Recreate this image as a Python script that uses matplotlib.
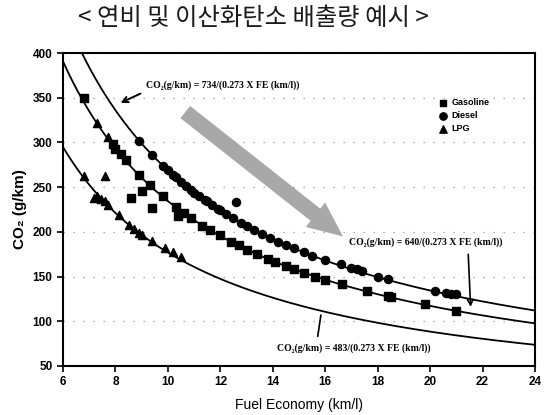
import matplotlib
matplotlib.use("Agg")
import matplotlib.pyplot as plt
import numpy as np

# ---- data ----
title = "< 연비 및 이산화탄소 배출량 예시 >"
x_label = "Fuel Economy (km/l)"
y_label = "CO₂ (g/km)"
x_ticks = [6, 8, 10, 12, 14, 16, 18, 20, 22, 24]
y_ticks = [50, 100, 150, 200, 250, 300, 350, 400]

curve_consts = [734, 640, 483]
fe_factor = 0.273

gas_fe = [6.8, 7.9, 8.0, 8.2, 8.4, 8.9, 9.3, 9.8, 10.3, 10.6, 10.9, 11.3, 11.6, 12.0,
          12.4, 12.7, 13.0, 13.4, 13.8, 14.1, 14.5, 14.8, 15.2, 15.6, 16.0, 16.65,
          17.6, 18.4, 18.5, 19.8, 21.0, 8.6, 9.0, 9.4, 10.4]
gas_co2 = [350, 298, 293, 287, 280, 264, 252, 240, 228, 221, 215, 207, 202, 196,
           189, 185, 180, 175, 170, 166, 162, 158, 154, 150, 146, 142,
           134, 128, 127, 119, 112, 238, 246, 227, 218]

dsl_fe = [8.9, 9.4, 9.8, 10.0, 10.2, 10.3, 10.5, 10.7, 10.9, 11.0, 11.2, 11.4, 11.5,
          11.7, 11.9, 12.0, 12.2, 12.5, 12.8, 13.0, 13.3, 13.6, 13.9, 14.2, 14.5,
          14.8, 15.2, 15.5, 16.0, 16.6, 17.0, 17.2, 17.4, 18.0, 18.4, 20.2, 20.6,
          20.8, 21.0, 12.6]
dsl_co2 = [302, 286, 274, 269, 264, 261, 256, 251, 247, 244, 240, 236, 234,
           230, 226, 224, 220, 215, 210, 207, 202, 198, 193, 189, 185,
           182, 177, 173, 168, 164, 160, 158, 156, 150, 147, 134, 132,
           131, 130, 233]

lpg_fe = [6.8, 7.2, 7.3, 7.45, 7.6, 7.7, 7.6, 7.3, 7.7, 8.15, 8.5, 8.7, 8.9, 9.0,
          9.4, 9.9, 10.2, 10.5]
lpg_co2 = [262, 238, 240, 237, 234, 230, 262, 322, 306, 219, 208, 203, 199, 197,
           190, 182, 177, 172]

series_names = ["Gasoline", "Diesel", "LPG"]

# ---- figure ----
plt.rcParams['font.family'] = ['Liberation Sans', 'DejaVu Sans']
fig = plt.figure(figsize=(5.45, 4.15), dpi=100)
ax = fig.add_axes([0.1156, 0.1181, 0.866, 0.754])

fe_line = np.linspace(6, 24, 400)
for c in curve_consts:
    ax.plot(fe_line, c / (fe_factor * fe_line), color='black', lw=1.3, zorder=3)

ax.scatter(gas_fe, gas_co2, marker='s', s=28, color='black', zorder=4, label=series_names[0])
ax.scatter(dsl_fe, dsl_co2, marker='o', s=34, color='black', zorder=4, label=series_names[1])
ax.scatter(lpg_fe, lpg_co2, marker='^', s=34, color='black', zorder=4, label=series_names[2])

ax.set_xlim(6, 24)
ax.set_ylim(50, 400)
ax.set_xticks(x_ticks)
ax.set_yticks(y_ticks)
ax.tick_params(direction='out', length=4, width=1.2, labelsize=8.5)
for lab in ax.get_xticklabels() + ax.get_yticklabels():
    lab.set_fontweight('bold')
for sp in ax.spines.values():
    sp.set_linewidth(1.5)

ax.grid(axis='y', linestyle=(0, (1, 7)), color='#999999', lw=0.9)
ax.set_axisbelow(True)

ax.set_xlabel(x_label, fontsize=10, labelpad=7)
ax.set_ylabel(y_label, fontsize=11, fontweight='bold', labelpad=4)

fig.text(0.465, 0.957, title, ha='center', va='center', fontsize=17.5, fontweight='normal',
         family=['Noto Sans CJK KR', 'DejaVu Sans'], color='#1a1a1a')

# big gray arrow
ax.annotate('', xy=(16.76, 193), xytext=(10.58, 336),
            arrowprops=dict(arrowstyle='simple,head_length=1.8,head_width=1.6,tail_width=0.8',
                            mutation_scale=14, color='#a8a8a8', lw=0), zorder=2)

# formula annotations
ffam = ['Liberation Serif', 'DejaVu Serif']
ax.text(9.15, 364, "CO₂(g/km) = 734/(0.273 X FE (km/l))", fontsize=7, fontweight='bold',
        family=ffam, va='center', ha='left', zorder=5)
ax.annotate('', xy=(8.1, 343), xytext=(9.05, 356),
            arrowprops=dict(arrowstyle='->', color='black', lw=1.4))

ax.text(16.9, 189, "CO₂(g/km) = 640/(0.273 X FE (km/l))", fontsize=7, fontweight='bold',
        family=ffam, va='center', ha='left', zorder=5)
ax.annotate('', xy=(21.55, 113), xytext=(21.45, 178),
            arrowprops=dict(arrowstyle='->', color='black', lw=1.2))

ax.text(17.1, 70, "CO₂(g/km) = 483/(0.273 X FE (km/l))", fontsize=7, fontweight='bold',
        family=ffam, va='center', ha='center', zorder=5)
ax.annotate('', xy=(15.85, 110), xytext=(15.7, 80),
            arrowprops=dict(arrowstyle='-', color='black', lw=1.2))

leg = ax.legend(loc='upper left', bbox_to_anchor=(0.785, 0.87), frameon=False,
                prop={'size': 6.5, 'weight': 'bold'}, handletextpad=0.3,
                labelspacing=0.45, borderpad=0, markerscale=0.9, handlelength=1.2)

fig.savefig('out.png', dpi=100)
